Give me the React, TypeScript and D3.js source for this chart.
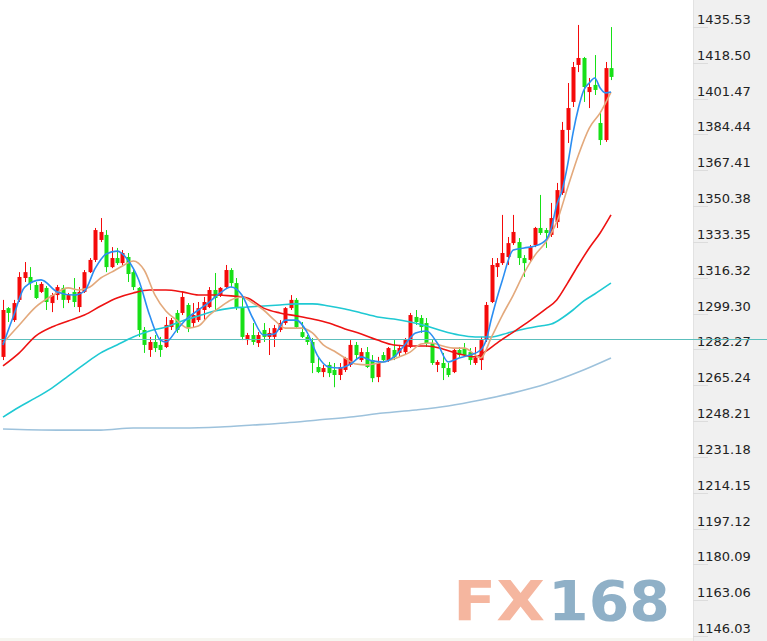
import React, { useEffect, useRef } from 'react';
import * as d3 from 'd3';

// daily candles, oldest first (red = up, green = down)
const opens = [
  1278.7, 1301.9, 1296.2, 1305.8, 1316.2, 1316.7, 1312.9, 1309.6, 1311.5, 1304.3,
  1308.1, 1311.5, 1305.8, 1309.6, 1302.4, 1309.6, 1319.0, 1324.8, 1334.3, 1336.7,
  1321.4, 1325.7, 1323.3, 1326.2, 1319.0, 1311.5, 1291.5, 1282.0, 1285.8, 1284.4,
  1283.4, 1292.9, 1299.6, 1299.6, 1303.4, 1294.8, 1296.2, 1301.0, 1302.4, 1310.5,
  1308.1, 1311.9, 1320.0, 1313.8, 1302.4, 1286.7, 1289.1, 1285.3, 1291.5, 1288.2,
  1288.2, 1291.5, 1294.8, 1301.9, 1305.8, 1290.5, 1288.2, 1285.8, 1273.9, 1271.5,
  1274.9, 1272.5, 1270.1, 1272.5, 1274.9, 1284.4, 1277.2, 1281.0, 1277.2, 1269.1,
  1279.6, 1277.2, 1282.0, 1280.6, 1281.0, 1283.4, 1297.7, 1297.2, 1294.8, 1285.3,
  1274.9, 1275.8, 1273.4, 1271.5, 1282.0, 1282.9, 1281.0, 1275.8, 1277.2, 1286.7,
  1304.8, 1321.4, 1323.3, 1326.2, 1332.8, 1333.3, 1325.7, 1324.8, 1331.9, 1340.0,
  1339.0, 1336.7, 1342.8, 1356.6, 1386.6, 1399.9, 1417.5, 1420.8, 1404.6, 1408.0,
  1389.9, 1381.8, 1416.0,
];
const closes = [
  1301.0, 1299.6, 1304.3, 1316.7, 1319.0, 1313.8, 1306.7, 1313.4, 1304.8, 1308.1,
  1311.9, 1305.8, 1308.1, 1304.8, 1309.6, 1319.0, 1324.8, 1339.0, 1338.1, 1321.4,
  1325.7, 1323.3, 1328.1, 1318.1, 1311.9, 1291.5, 1284.4, 1285.8, 1282.9, 1282.0,
  1293.9, 1296.2, 1291.5, 1307.2, 1292.4, 1298.6, 1301.9, 1304.8, 1310.5, 1306.7,
  1311.5, 1320.0, 1313.8, 1302.4, 1288.2, 1289.1, 1285.8, 1289.1, 1288.2, 1290.1,
  1292.4, 1294.8, 1301.9, 1305.8, 1292.9, 1288.2, 1285.8, 1275.8, 1271.5, 1273.4,
  1271.0, 1270.1, 1273.9, 1278.2, 1284.4, 1279.6, 1281.0, 1273.9, 1268.6, 1275.8,
  1277.2, 1282.9, 1278.7, 1282.9, 1286.7, 1298.6, 1295.3, 1292.9, 1285.3, 1275.8,
  1276.3, 1273.4, 1270.1, 1282.0, 1279.6, 1279.6, 1277.2, 1278.2, 1286.7, 1303.4,
  1322.4, 1323.3, 1328.1, 1332.8, 1338.1, 1325.7, 1323.3, 1330.9, 1340.0, 1337.6,
  1337.6, 1344.7, 1358.0, 1386.6, 1397.0, 1416.5, 1420.8, 1407.0, 1407.0, 1405.6,
  1381.8, 1416.0, 1411.8,
];
const highs = [
  1305.8, 1302.4, 1305.8, 1319.0, 1323.8, 1321.4, 1314.3, 1314.3, 1312.4, 1309.1,
  1312.9, 1312.9, 1309.1, 1316.2, 1311.9, 1320.0, 1325.7, 1340.0, 1344.7, 1339.0,
  1330.9, 1330.5, 1329.5, 1328.1, 1320.0, 1311.9, 1292.9, 1288.2, 1289.1, 1288.2,
  1297.7, 1297.2, 1301.0, 1309.6, 1304.3, 1304.3, 1304.8, 1307.2, 1311.9, 1318.6,
  1311.9, 1322.4, 1320.9, 1316.2, 1306.7, 1290.1, 1294.8, 1290.5, 1294.8, 1292.4,
  1293.9, 1296.2, 1302.4, 1308.1, 1306.7, 1295.3, 1289.1, 1287.7, 1278.2, 1274.9,
  1276.3, 1275.8, 1275.8, 1278.7, 1286.7, 1285.8, 1282.9, 1283.4, 1279.6, 1278.7,
  1281.0, 1283.4, 1286.7, 1284.4, 1287.7, 1299.6, 1301.0, 1298.6, 1297.2, 1286.7,
  1277.2, 1280.6, 1275.8, 1282.9, 1283.4, 1285.3, 1282.9, 1283.4, 1288.2, 1304.8,
  1325.7, 1325.7, 1346.2, 1335.7, 1346.2, 1335.2, 1327.1, 1331.9, 1340.5, 1355.7,
  1340.0, 1351.9, 1361.4, 1390.4, 1408.9, 1418.9, 1436.5, 1421.3, 1411.3, 1422.2,
  1395.1, 1418.9, 1435.5,
];
const lows = [
  1277.2, 1295.3, 1295.3, 1304.8, 1314.3, 1310.5, 1306.2, 1309.1, 1301.0, 1300.0,
  1305.8, 1301.9, 1304.3, 1302.4, 1300.0, 1309.1, 1318.6, 1323.8, 1333.3, 1319.0,
  1320.9, 1322.4, 1322.4, 1314.3, 1310.5, 1288.2, 1280.6, 1278.7, 1281.0, 1278.7,
  1282.9, 1291.5, 1290.1, 1298.6, 1290.5, 1292.9, 1295.3, 1296.2, 1301.9, 1301.0,
  1307.2, 1311.5, 1311.9, 1301.0, 1286.7, 1284.4, 1284.4, 1283.4, 1285.8, 1279.6,
  1283.4, 1290.5, 1293.9, 1301.0, 1292.4, 1287.7, 1284.4, 1271.0, 1271.0, 1269.1,
  1269.1, 1264.3, 1267.7, 1271.5, 1273.9, 1277.2, 1276.3, 1273.4, 1266.7, 1266.7,
  1276.3, 1276.3, 1277.2, 1278.7, 1279.6, 1282.9, 1293.9, 1290.1, 1283.4, 1274.9,
  1271.5, 1267.7, 1269.1, 1271.0, 1278.7, 1278.7, 1274.9, 1274.9, 1272.5, 1285.8,
  1304.3, 1316.7, 1322.4, 1322.4, 1331.9, 1322.4, 1316.7, 1323.8, 1330.9, 1336.7,
  1330.5, 1335.7, 1340.0, 1355.7, 1380.4, 1397.5, 1414.1, 1399.9, 1397.0, 1403.2,
  1379.4, 1380.9, 1410.3,
];

// moving averages at candle indices
const ma5Idx = [0, 2, 4, 7, 10, 13, 15, 17, 19, 21, 23, 25, 27, 29, 30, 32, 34, 36, 38, 40, 42, 44, 46, 48, 50, 52, 54, 56, 58, 60, 62, 64, 66, 68, 70, 72, 74, 76, 78, 80, 82, 84, 86, 88, 89, 90, 92, 94, 96, 98, 100, 101, 102, 103, 104, 105, 106, 107, 108, 109, 110, 111, 112];
const ma5 = [1284.4, 1298.6, 1311.9, 1315.3, 1309.6, 1308.1, 1310.0, 1320.9, 1327.6, 1329.0, 1324.8, 1315.3, 1298.6, 1286.7, 1285.8, 1291.5, 1297.2, 1301.0, 1304.8, 1309.1, 1311.9, 1308.1, 1297.2, 1289.1, 1289.6, 1296.2, 1296.2, 1290.5, 1279.1, 1273.9, 1273.4, 1275.3, 1278.7, 1276.8, 1276.3, 1278.7, 1284.4, 1290.1, 1291.0, 1285.3, 1276.3, 1278.2, 1279.6, 1282.0, 1286.7, 1297.2, 1315.3, 1329.5, 1330.5, 1331.4, 1334.3, 1340.0, 1350.9, 1358.0, 1369.9, 1385.1, 1397.0, 1405.6, 1408.9, 1411.3, 1406.5, 1404.2, 1404.6];

const ma10Idx = [0, 3, 6, 9, 12, 14, 16, 18, 20, 22, 24, 26, 28, 30, 32, 34, 36, 38, 40, 42, 44, 46, 48, 50, 52, 55, 57, 59, 61, 63, 65, 67, 70, 73, 75, 77, 79, 81, 83, 85, 87, 88, 90, 92, 94, 96, 98, 100, 102, 104, 106, 108, 110, 112];
const ma10 = [1285.3, 1293.9, 1302.4, 1307.7, 1311.5, 1310.5, 1311.9, 1316.2, 1319.0, 1321.9, 1324.3, 1320.0, 1308.1, 1300.5, 1296.2, 1292.4, 1293.4, 1298.6, 1302.4, 1305.8, 1307.2, 1304.3, 1301.0, 1296.2, 1292.4, 1292.4, 1290.1, 1284.4, 1281.5, 1278.2, 1275.3, 1274.9, 1276.3, 1278.7, 1281.0, 1284.8, 1285.3, 1283.9, 1282.9, 1282.9, 1279.6, 1278.2, 1288.2, 1298.6, 1308.1, 1318.6, 1327.1, 1333.3, 1342.8, 1359.0, 1374.7, 1387.5, 1394.7, 1404.6];

const ma20Idx = [0, 3, 6, 9, 12, 15, 18, 21, 24, 27, 30, 33, 36, 39, 42, 45, 48, 51, 54, 57, 60, 63, 66, 69, 72, 75, 78, 81, 84, 87, 89, 91, 94, 97, 100, 102, 104, 106, 108, 110, 112];
const ma20 = [1274.4, 1280.6, 1288.6, 1292.9, 1295.8, 1298.6, 1302.9, 1306.7, 1309.1, 1310.5, 1310.5, 1309.6, 1308.1, 1308.1, 1307.7, 1306.7, 1301.9, 1299.6, 1298.2, 1296.7, 1294.8, 1292.0, 1289.6, 1286.7, 1284.4, 1283.9, 1283.9, 1282.5, 1280.1, 1278.7, 1281.5, 1285.3, 1290.5, 1295.8, 1301.5, 1305.8, 1313.8, 1322.4, 1330.5, 1337.6, 1346.2];

const ma60Idx = [0, 3, 6, 9, 12, 15, 18, 21, 24, 27, 30, 33, 36, 39, 42, 45, 48, 51, 54, 57, 60, 63, 66, 69, 72, 75, 78, 81, 84, 87, 90, 93, 96, 99, 101, 103, 105, 107, 109, 112];
const ma60 = [1250.1, 1254.9, 1259.2, 1263.9, 1269.6, 1275.3, 1280.6, 1284.4, 1288.2, 1291.0, 1292.9, 1295.8, 1298.2, 1300.5, 1301.9, 1302.4, 1302.9, 1303.4, 1303.9, 1303.9, 1302.9, 1301.5, 1299.6, 1297.7, 1296.7, 1295.3, 1293.4, 1291.0, 1289.1, 1288.2, 1288.2, 1290.1, 1292.0, 1293.4, 1294.3, 1297.2, 1301.0, 1305.3, 1308.6, 1313.8];

const ma120Idx = [0, 10, 18, 24, 33, 40, 46, 52, 58, 64, 70, 76, 82, 88, 94, 100, 106, 112];
const ma120 = [1244.4, 1243.9, 1243.9, 1244.9, 1244.9, 1245.4, 1246.3, 1247.3, 1248.7, 1250.1, 1252.0, 1253.5, 1255.4, 1258.2, 1261.6, 1265.8, 1271.5, 1278.2];

const tickLabels = [
  '1435.53', '1418.50', '1401.47', '1384.44', '1367.41', '1350.38', '1333.35', '1316.32', '1299.30',
  '1282.27', '1265.24', '1248.21', '1231.18', '1214.15', '1197.12', '1180.09', '1163.06', '1146.03',
];
const refLevel = 1287.2;

const W = 767;
const H = 641;

const App: React.FC = () => {
  const svgRef = useRef<SVGSVGElement>(null);

  useEffect(() => {
    document.body.style.margin = '0';
    if (!svgRef.current) return;
    const svg = d3.select(svgRef.current);
    svg.selectAll('*').remove();

    const axisX = 693;
    const x = d3.scaleLinear().domain([0, opens.length - 1]).range([3, 611]);
    const y = d3.scaleLinear().domain([1146.03, 1435.53]).range([636, 27]);

    svg.append('rect').attr('width', W).attr('height', H).attr('fill', '#ffffff');

    // watermark
    const wm = svg.append('g')
      .attr('font-family', '"DejaVu Sans", Verdana, sans-serif')
      .attr('font-weight', 'bold')
      .attr('font-size', 55);
    wm.append('text').attr('x', 453).attr('y', 620).attr('fill', '#f5b69f')
      .attr('textLength', 92).attr('lengthAdjust', 'spacingAndGlyphs').text('FX');
    wm.append('text').attr('x', 548).attr('y', 620).attr('fill', '#8fb0c7')
      .attr('textLength', 122).attr('lengthAdjust', 'spacingAndGlyphs').text('168');
    svg.append('rect').attr('x', 0).attr('y', 638).attr('width', axisX).attr('height', 3).attr('fill', '#f6f6f0');

    // right price axis panel
    svg.append('rect').attr('x', axisX).attr('y', 0).attr('width', W - axisX).attr('height', H).attr('fill', '#f0f0f0');
    svg.append('line').attr('x1', axisX + 0.5).attr('x2', axisX + 0.5).attr('y1', 0).attr('y2', H)
      .attr('stroke', '#e2e2e2');

    const tickVals = tickLabels.map(Number);
    const ticks = svg.append('g');
    ticks.selectAll('line').data(tickVals).enter().append('line')
      .attr('x1', axisX).attr('x2', axisX + 15)
      .attr('y1', d => Math.round(y(d)) + 0.5).attr('y2', d => Math.round(y(d)) + 0.5)
      .attr('stroke', '#dcdcdc');
    ticks.selectAll('text').data(tickLabels).enter().append('text')
      .attr('x', axisX + 4)
      .attr('y', d => y(Number(d)) - 3)
      .attr('font-family', '"DejaVu Sans", Verdana, sans-serif')
      .attr('font-size', 13)
      .attr('fill', '#222')
      .text(d => d);

    // candles
    const idx = d3.range(opens.length);
    const color = (i: number) => (closes[i] >= opens[i] ? '#f50a0a' : '#17e017');
    const candles = svg.append('g');
    candles.selectAll('line').data(idx).enter().append('line')
      .attr('x1', i => Math.round(x(i)) + 0.5).attr('x2', i => Math.round(x(i)) + 0.5)
      .attr('y1', i => y(highs[i])).attr('y2', i => y(lows[i]))
      .attr('stroke', color).attr('stroke-width', 1);
    candles.selectAll('rect').data(idx).enter().append('rect')
      .attr('x', i => Math.round(x(i)) - 1.5)
      .attr('width', 4)
      .attr('y', i => y(Math.max(opens[i], closes[i])))
      .attr('height', i => Math.max(1.5, Math.abs(y(opens[i]) - y(closes[i]))))
      .attr('fill', color);

    // reference level
    svg.append('line').attr('x1', 0).attr('x2', W)
      .attr('y1', Math.round(y(refLevel)) + 0.5).attr('y2', Math.round(y(refLevel)) + 0.5)
      .attr('stroke', '#5cbfbd').attr('stroke-width', 1);

    // moving averages
    const series: [number[], number[], string, number][] = [
      [ma120Idx, ma120, '#9dc2dc', 1.6],
      [ma60Idx, ma60, '#1fc9d3', 1.6],
      [ma20Idx, ma20, '#ee1212', 1.6],
      [ma10Idx, ma10, '#e3a97c', 1.6],
      [ma5Idx, ma5, '#2b8ef2', 1.6],
    ];
    const line = d3.line<[number, number]>()
      .x(d => x(d[0]))
      .y(d => y(d[1]))
      .curve(d3.curveMonotoneX);
    series.forEach(([is, vs, stroke, sw]) => {
      svg.append('path')
        .datum(is.map((i, k) => [i, vs[k]] as [number, number]))
        .attr('d', line)
        .attr('fill', 'none')
        .attr('stroke', stroke)
        .attr('stroke-width', sw);
    });
  }, []);

  return <svg ref={svgRef} width={W} height={H} style={{ display: 'block' }} />;
};

export default App;
